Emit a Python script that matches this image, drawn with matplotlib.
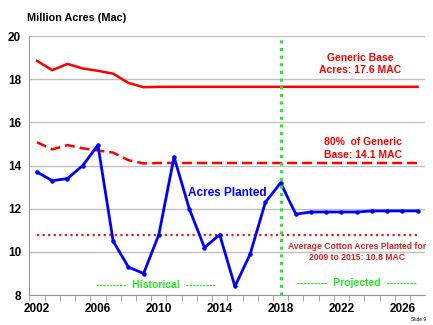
import matplotlib
matplotlib.use("Agg")
import matplotlib.pyplot as plt
from matplotlib.ticker import MultipleLocator

plt.rcParams['font.family'] = ['Liberation Sans', 'DejaVu Sans']

years = list(range(2002, 2028))
planted = [13.7, 13.3, 13.4, 14.0, 14.95, 10.5, 9.3, 9.0, 10.8, 14.4, 12.0, 10.2, 10.8,
           8.4, 9.9, 12.3, 13.2, 11.75, 11.85, 11.85, 11.85, 11.85, 11.9, 11.9, 11.9, 11.9]
generic_base = [18.85, 18.42, 18.71, 18.5, 18.39, 18.26, 17.83, 17.63] + [17.65] * 18
base_80 = [15.08, 14.75, 14.95, 14.8, 14.7, 14.6, 14.25, 14.1] + [14.12] * 18
avg_0915 = 10.8
split_year = 2018

fig = plt.figure(figsize=(4.33, 3.25), dpi=100)
ax = fig.add_axes([0.068, 0.092, 0.914, 0.797])

ax.plot(years, generic_base, color='#ff0000', lw=1.8)
ax.plot(years, base_80, color='#ff0000', lw=1.8, ls=(0, (4, 2)))
ax.plot([years[0], years[-1]], [avg_0915] * 2, color='#dd2222', lw=1.6, ls=(0, (1, 1.5)))
ax.plot(years, planted, color='#0000ff', lw=2.0, marker='o', ms=2.2)
ax.axvline(split_year, color='#22ee22', lw=2.2, ls=(0, (1, 1.5)))

ax.set_xlim(2001.5, 2027.5)
ax.set_ylim(8, 20)
ax.yaxis.set_major_locator(MultipleLocator(2))
ax.set_xticks(range(2002, 2028, 4))
ax.set_xticks([y + 0.5 for y in range(2001, 2027)], minor=True)
ax.tick_params(axis='x', which='major', length=0, pad=6)
ax.tick_params(axis='x', which='minor', length=4, color='#999999')
ax.tick_params(axis='y', length=0, pad=6)
for lab in ax.get_xticklabels() + ax.get_yticklabels():
    lab.set_fontweight('bold')
    lab.set_fontsize(8.5)
ax.grid(axis='y', color='#c0c0c0', lw=1)
ax.set_axisbelow(True)
for s in ['top', 'right']:
    ax.spines[s].set_visible(False)
for s in ['left', 'bottom']:
    ax.spines[s].set_color('#999999')

fig.text(0.062, 0.944, 'Million Acres (Mac)', fontsize=7.8, fontweight='bold', va='center')

ax.text(2023.25, 18.7, 'Generic Base\nAcres: 17.6 MAC', color='#ff0000', fontsize=7.5,
        fontweight='bold', ha='center', va='center', linespacing=1.3)
ax.text(2023.4, 14.8, '80%  of Generic\nBase: 14.1 MAC', color='#ff0000', fontsize=7.5,
        fontweight='bold', ha='center', va='center', linespacing=1.3)
ax.text(2014.5, 12.75, 'Acres Planted', color='#0000ff', fontsize=8.5,
        fontweight='bold', ha='center', va='center')
ax.text(2023.0, 10.0, 'Average Cotton Acres Planted for\n2009 to 2015: 10.8 MAC', color='#dd2222',
        fontsize=6.2, fontweight='bold', ha='center', va='center', linespacing=1.35)
ax.text(2009.8, 8.47, '---------  Historical  ---------', color='#22ee22', fontsize=7.5,
        fontweight='bold', ha='center', va='center')
ax.text(2023.0, 8.57, '---------  Projected  ---------', color='#22ee22', fontsize=7.5,
        fontweight='bold', ha='center', va='center')
fig.text(0.985, 0.01, 'Slide 9', fontsize=3.5, ha='right', va='bottom')

fig.savefig('out.png', dpi=100)
